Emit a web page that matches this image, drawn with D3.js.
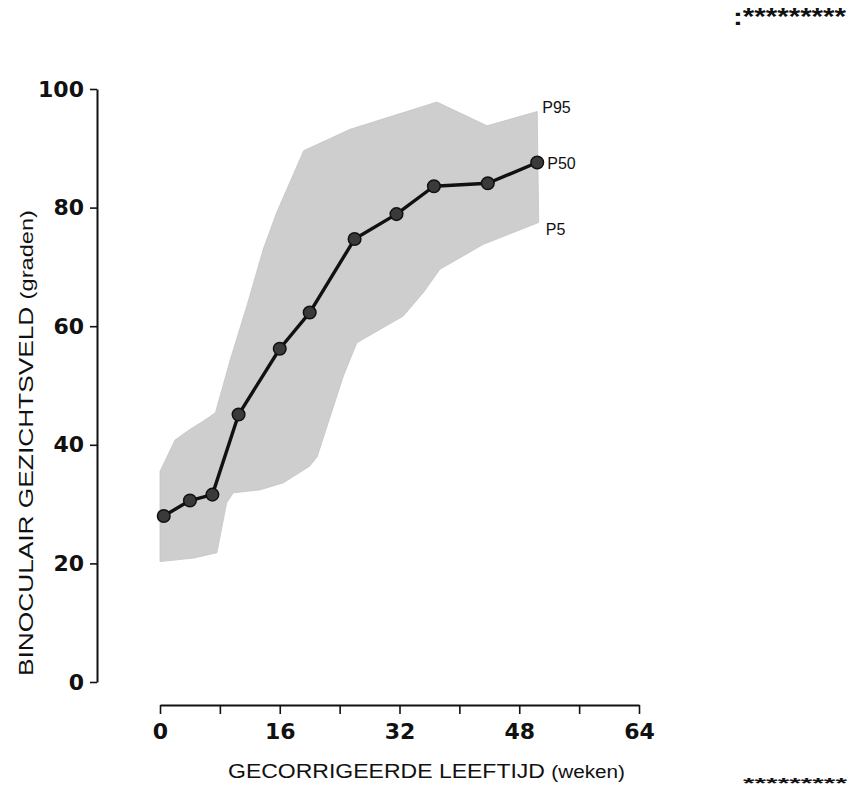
<!DOCTYPE html>
<html>
<head>
<meta charset="utf-8">
<script src="https://cdn.jsdelivr.net/npm/d3@7/dist/d3.min.js"></script>
<style>
  html, body { margin: 0; padding: 0; background: #fff; }
  svg { display: block; }
</style>
</head>
<body>
<svg id="chart" width="851" height="792"></svg>
<script>
// ---- data ----
const p50Weeks  = [0.5, 4, 7, 10.5, 16, 20, 26, 31.6, 36.6, 43.8, 50.4];
const p50Values = [28.0, 30.6, 31.6, 45.1, 56.2, 62.3, 74.7, 78.9, 83.6, 84.1, 87.6];

const p95Weeks  = [0, 2, 4, 5.8, 7.4, 9.4, 11.6, 13.8, 15.6, 19.2, 25.4, 37, 43.7, 50.4];
const p95Values = [35.5, 40.8, 42.6, 44, 45.4, 54.4, 63.4, 73, 79.2, 89.6, 93.2, 97.8, 93.8, 96.2];

const p5Weeks   = [0, 4.5, 7.6, 8.9, 9.8, 13.4, 16.5, 20, 21, 24.5, 26.3, 32.5, 35.2, 37.4, 43.2, 50.6];
const p5Values  = [20.3, 20.9, 21.8, 30.2, 31.9, 32.4, 33.6, 36.4, 38, 51.6, 57.2, 61.7, 65.7, 69.6, 73.8, 77.5];

const yTicks = [0, 20, 40, 60, 80, 100];
const xTicks = [0, 8, 16, 24, 32, 40, 48, 56, 64];
const xTickLabels = ["0", "", "16", "", "32", "", "48", "", "64"];

const curveLabels = ["P95", "P50", "P5"];
const xTitle = "GECORRIGEERDE LEEFTIJD";
const xTitleUnit = "(weken)";
const yTitle = "BINOCULAIR GEZICHTSVELD";
const yTitleUnit = "(graden)";
const cornerTop = ":*********";
const cornerBottom = "*********";

// ---- drawing ----
const svg = d3.select("#chart");
const x = d3.scaleLinear().domain([0, 64]).range([160, 639]);
const y = d3.scaleLinear().domain([0, 100]).range([682, 89]);

const tickFont = "'DejaVu Sans', sans-serif";
const textFont = "'Liberation Sans', Arial, sans-serif";

// band (P5 - P95)
const upper = p95Weeks.map((w, i) => [w, p95Values[i]]);
const lowerFwd = p5Weeks.map((w, i) => [w, p5Values[i]]);
const lower = lowerFwd.slice().reverse();
const bandLine = d3.line().x(d => x(d[0])).y(d => y(d[1])).curve(d3.curveLinearClosed);
svg.append("path")
  .attr("d", bandLine(upper.concat(lower)))
  .attr("fill", "#cecece")
  .attr("stroke", "#c4c4c4").attr("stroke-width", 0.8);

// y axis
const yAxis = d3.axisLeft(y).tickValues(yTicks).tickSize(7).tickSizeOuter(0).tickPadding(6);
const gy = svg.append("g").attr("transform", "translate(97,0)").call(yAxis);
gy.select(".domain").attr("stroke", "#111").attr("stroke-width", 2);
gy.selectAll(".tick line").attr("stroke", "#111").attr("stroke-width", 1.6);
gy.selectAll(".tick text")
  .attr("font-family", tickFont).attr("font-weight", "bold")
  .attr("font-size", 22).attr("fill", "#111");

// x axis
const xAxis = d3.axisBottom(x).tickValues(xTicks).tickSize(9).tickSizeOuter(0).tickPadding(9)
  .tickFormat((d, i) => xTickLabels[i]);
const gx = svg.append("g").attr("transform", "translate(0,705)").call(xAxis);
gx.select(".domain").attr("stroke", "#111").attr("stroke-width", 2);
gx.selectAll(".tick line").attr("stroke", "#111").attr("stroke-width", 1.6);
gx.selectAll(".tick text")
  .attr("font-family", tickFont).attr("font-weight", "bold")
  .attr("font-size", 22).attr("fill", "#111");

// P50 line and markers
const p50 = p50Weeks.map((w, i) => [w, p50Values[i]]);
svg.append("path")
  .attr("d", d3.line().x(d => x(d[0])).y(d => y(d[1]))(p50))
  .attr("fill", "none").attr("stroke", "#111").attr("stroke-width", 3.4)
  .attr("stroke-linejoin", "round");
svg.selectAll("circle.pt").data(p50).enter().append("circle")
  .attr("class", "pt")
  .attr("cx", d => x(d[0])).attr("cy", d => y(d[1])).attr("r", 6.3)
  .attr("fill", "#3a3a3a").attr("stroke", "#111").attr("stroke-width", 1.5);

// curve labels
const lastUp = upper[upper.length - 1];
const lastMid = p50[p50.length - 1];
const lastLow = lowerFwd[lowerFwd.length - 1];
const labelPos = [
  [x(lastUp[0]) + 5, y(lastUp[1]) + 1],
  [x(lastMid[0]) + 10, y(lastMid[1]) + 6],
  [x(lastLow[0]) + 7, y(lastLow[1]) + 13]
];
svg.selectAll("text.plab").data(curveLabels).enter().append("text")
  .attr("class", "plab")
  .attr("x", (d, i) => labelPos[i][0]).attr("y", (d, i) => labelPos[i][1])
  .attr("font-family", textFont).attr("font-size", 16).attr("fill", "#111")
  .text(d => d);

// axis titles
const xt = svg.append("text")
  .attr("x", 228).attr("y", 778)
  .attr("font-family", textFont).attr("font-size", 20).attr("fill", "#111")
  .attr("textLength", 397).attr("lengthAdjust", "spacingAndGlyphs");
xt.append("tspan").text(xTitle + " ");
xt.append("tspan").attr("font-size", 18).text(xTitleUnit);

const yt = svg.append("text")
  .attr("transform", "translate(33,676) rotate(-90)")
  .attr("x", 0).attr("y", 0)
  .attr("font-family", textFont).attr("font-size", 20).attr("fill", "#111")
  .attr("textLength", 466).attr("lengthAdjust", "spacingAndGlyphs");
yt.append("tspan").text(yTitle + " ");
yt.append("tspan").attr("font-size", 18).text(yTitleUnit);

// corner marks
svg.append("text").attr("x", 733).attr("y", 25)
  .attr("font-family", textFont).attr("font-weight", "bold").attr("font-size", 24).attr("fill", "#111")
  .attr("textLength", 113).attr("lengthAdjust", "spacingAndGlyphs").text(cornerTop);
svg.append("text").attr("x", 743).attr("y", 788)
  .attr("font-family", textFont).attr("font-weight", "bold").attr("font-size", 14).attr("fill", "#111")
  .attr("textLength", 104).attr("lengthAdjust", "spacingAndGlyphs").text(cornerBottom);
</script>
</body>
</html>
